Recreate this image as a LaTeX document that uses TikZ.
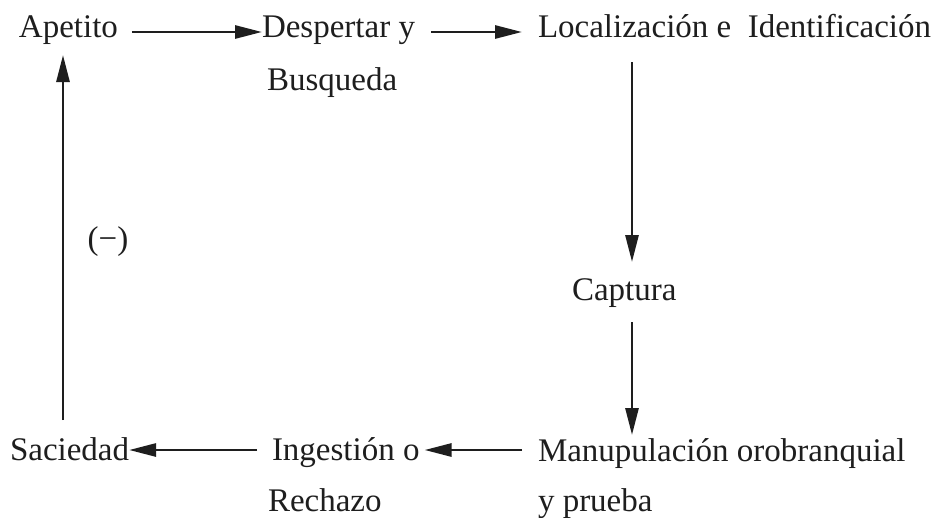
\documentclass[tikz,border=0pt]{standalone}
\usepackage{fontspec}
\setmainfont{Liberation Serif}
\usetikzlibrary{arrows.meta}
\definecolor{ink}{HTML}{1E1E1E}
\tikzset{
  lbl/.style={anchor=base west, inner sep=0pt, outer sep=0pt, text=ink, font=\fontsize{33}{39}\selectfont},
  arr/.style={draw=ink, line width=2.8pt, -{Triangle[length=27pt,width=13pt]}},
}
\begin{document}
\begin{tikzpicture}[x=1pt,y=-1pt]
\useasboundingbox[fill=white] (0,0) rectangle (937,517);
\node[lbl] (ap) at (19,37) {Apetito};
\node[lbl] (d1) at (262,37) {Despertar y};
\node[lbl] (d2) at (267,90) {Busqueda};
\node[lbl] (loc) at (538,37) {Localización e\hspace{0.25em} Identificación};
\node[lbl] (cap) at (572,300) {Captura};
\node[lbl] (man) at (538,461) {Manupulación orobranquial};
\node[lbl] (man2) at (538,511) {y prueba};
\node[lbl] (ing) at (272,460) {Ingestión o};
\node[lbl] (rech) at (268,511) {Rechazo};
\node[lbl] (sac) at (10,460) {Saciedad};
\node[lbl, anchor=center] (neg) at (108,242) {(−)};
\draw[arr] ([shift={(14,-5)}]ap.base east) -- ([shift={(0,-5)}]d1.base west);
\draw[arr] ([shift={(16,-5)}]d1.base east) -- ([shift={(-16,-5)}]loc.base west);
\draw[arr] ([shift={(94,25)}]loc.base west) -- ([shift={(60,-38)}]cap.base west);
\draw[arr] ([shift={(60,22)}]cap.base west) -- ([shift={(94,-26)}]man.base west);
\draw[arr] ([shift={(-16,-11)}]man.base west) -- ([shift={(5,-10)}]ing.base east);
\draw[arr] ([shift={(-15,-10)}]ing.base west) -- ([shift={(0,-10)}]sac.base east);
\draw[arr] ([shift={(53,-40)}]sac.base west) -- ([shift={(44,18)}]ap.base west);
\end{tikzpicture}
\end{document}
